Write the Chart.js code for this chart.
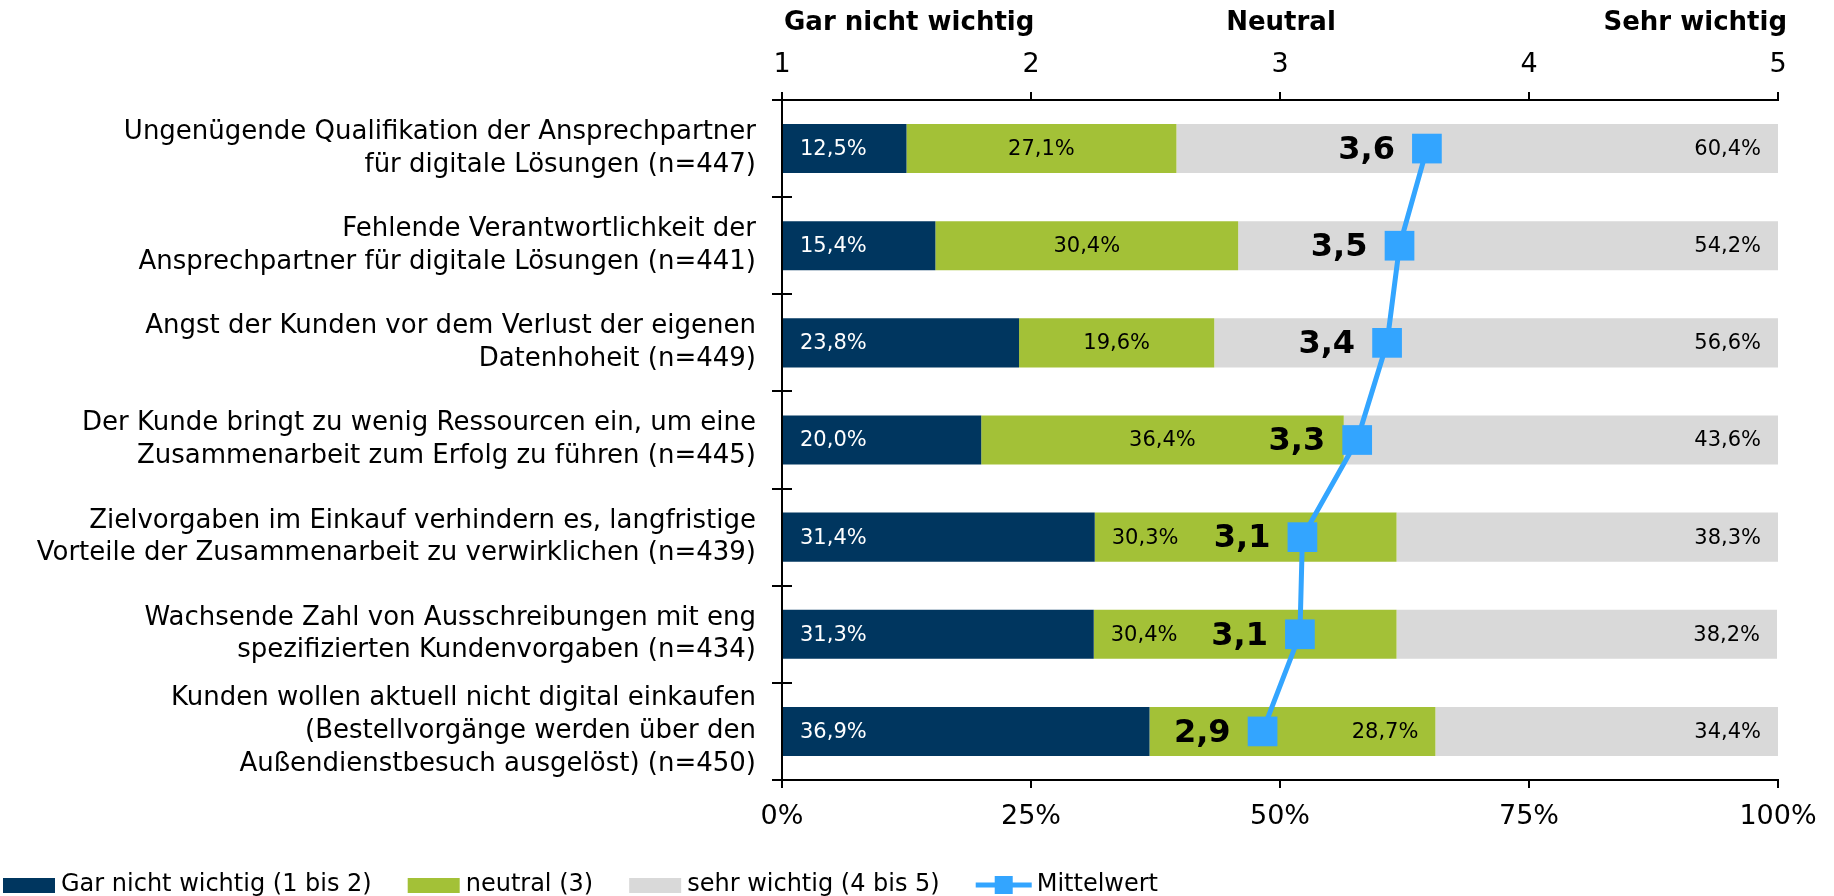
<!DOCTYPE html>
<html>
<head>
<meta charset="utf-8">
<script src="https://cdn.jsdelivr.net/npm/chart.js@4.4.1/dist/chart.umd.min.js"></script>
<style>
  html, body { margin: 0; padding: 0; background: #ffffff; }
  #wrap { width: 1834px; height: 896px; }
</style>
</head>
<body>
<div id="wrap"><canvas id="c" width="1834" height="896"></canvas></div>
<script>
// ---------- DATA ----------
const categories = [
  ['Ungenügende Qualifikation der Ansprechpartner', 'für digitale Lösungen (n=447)'],
  ['Fehlende Verantwortlichkeit der', 'Ansprechpartner für digitale Lösungen (n=441)'],
  ['Angst der Kunden vor dem Verlust der eigenen', 'Datenhoheit (n=449)'],
  ['Der Kunde bringt zu wenig Ressourcen ein, um eine', 'Zusammenarbeit zum Erfolg zu führen (n=445)'],
  ['Zielvorgaben im Einkauf verhindern es, langfristige', 'Vorteile der Zusammenarbeit zu verwirklichen (n=439)'],
  ['Wachsende Zahl von Ausschreibungen mit eng', 'spezifizierten Kundenvorgaben (n=434)'],
  ['Kunden wollen aktuell nicht digital einkaufen', '(Bestellvorgänge werden über den', 'Außendienstbesuch ausgelöst) (n=450)']
];
const notImportantValues = [12.5, 15.4, 23.8, 20.0, 31.4, 31.3, 36.9];
const neutralValues      = [27.1, 30.4, 19.6, 36.4, 30.3, 30.4, 28.7];
const importantValues    = [60.4, 54.2, 56.6, 43.6, 38.3, 38.2, 34.4];
const meanValues         = [3.59, 3.48, 3.43, 3.31, 3.09, 3.08, 2.93];
const seriesNames = ['Gar nicht wichtig (1 bis 2)', 'neutral (3)', 'sehr wichtig (4 bis 5)', 'Mittelwert'];
const percentTicks = [0, 25, 50, 75, 100];
const scaleTicks = [1, 2, 3, 4, 5];
const headerLabels = ['Gar nicht wichtig', 'Neutral', 'Sehr wichtig'];
const headerValues = [1, 3, 5];

// ---------- STYLE ----------
const FONT = "'DejaVu Sans', Verdana, sans-serif";
const NAVY = '#00365f';
const GREEN = '#a3c137';
const GRAY = '#d9d9d9';
const BLUE = '#33a5ff';
const neutralLabelAlign = ['center', 'center', 'center', 'center', 'start', 'start', 'end'];

const fmtPct = v => v.toFixed(1).replace('.', ',') + '%';
const fmtMean = v => v.toFixed(1).replace('.', ',');

const overlay = {
  id: 'overlay',
  afterDatasetsDraw(chart) {
    const ctx = chart.ctx;
    ctx.save();
    ctx.textBaseline = 'middle';
    // segment labels
    const pad = 17;
    ctx.font = '21px ' + FONT;
    [0, 1, 2].forEach(di => {
      const meta = chart.getDatasetMeta(di);
      const vals = chart.data.datasets[di].data;
      meta.data.forEach((bar, i) => {
        const left = Math.min(bar.base, bar.x), right = Math.max(bar.base, bar.x);
        const txt = fmtPct(vals[i]);
        let align, x;
        if (di === 0) { align = 'start'; ctx.fillStyle = '#ffffff'; }
        else if (di === 1) { align = neutralLabelAlign[i]; ctx.fillStyle = '#000000'; }
        else { align = 'end'; ctx.fillStyle = '#000000'; }
        if (align === 'start') { ctx.textAlign = 'left'; x = left + pad; }
        else if (align === 'end') { ctx.textAlign = 'right'; x = right - pad; }
        else { ctx.textAlign = 'center'; x = (left + right) / 2; }
        ctx.fillText(txt, x, bar.y + 1);
      });
    });
    // mean labels
    const lm = chart.getDatasetMeta(3);
    ctx.font = 'bold 32px ' + FONT;
    ctx.fillStyle = '#000000';
    ctx.textAlign = 'right';
    lm.data.forEach((pt, i) => {
      ctx.fillText(fmtMean(meanValues[i]), pt.x - 32, pt.y + 2);
    });
    ctx.restore();
  },
  afterDraw(chart) {
    const ctx = chart.ctx;
    ctx.save();
    // inner tick marks on category axis
    const ys = chart.scales.y;
    const ax = chart.chartArea.left;
    ctx.strokeStyle = '#000000';
    ctx.lineWidth = 2;
    for (let i = 0; i <= categories.length; i++) {
      const y = Math.round(ys.getPixelForValue(i - 0.5));
      ctx.beginPath();
      ctx.moveTo(ax, y);
      ctx.lineTo(ax + 10, y);
      ctx.stroke();
    }
    // header labels over the top axis
    const x2 = chart.scales.x2;
    ctx.font = 'bold 26px ' + FONT;
    ctx.fillStyle = '#000000';
    ctx.textBaseline = 'middle';
    headerLabels.forEach((t, i) => {
      const px = x2.getPixelForValue(headerValues[i]);
      if (i === 0) { ctx.textAlign = 'left'; ctx.fillText(t, px + 2, 23); }
      else if (i === headerLabels.length - 1) { ctx.textAlign = 'right'; ctx.fillText(t, px + 9, 23); }
      else { ctx.textAlign = 'center'; ctx.fillText(t, px + 1, 23); }
    });
    // legend
    const colors = [NAVY, GREEN, GRAY];
    ctx.font = '24px ' + FONT;
    ctx.textAlign = 'left';
    const cy = 885;
    let x = 3;
    seriesNames.forEach((name, i) => {
      if (i < 3) {
        ctx.fillStyle = colors[i];
        ctx.fillRect(x, cy - 7, 52, 15);
        x += 58;
      } else {
        ctx.strokeStyle = BLUE;
        ctx.lineWidth = 5;
        ctx.beginPath();
        ctx.moveTo(x, cy);
        ctx.lineTo(x + 56, cy);
        ctx.stroke();
        ctx.fillStyle = BLUE;
        ctx.fillRect(x + 28 - 9, cy - 9, 18, 18);
        x += 61;
      }
      ctx.fillStyle = '#000000';
      ctx.fillText(name, x, cy);
      x += ctx.measureText(name).width + 36;
    });
    ctx.restore();
  }
};

const axisGrid = { drawOnChartArea: false, drawTicks: true, tickLength: 8, color: '#000000', lineWidth: 2 };

new Chart(document.getElementById('c'), {
  type: 'bar',
  data: {
    labels: categories,
    datasets: [
      { label: seriesNames[0], data: notImportantValues, backgroundColor: NAVY, borderWidth: 0, order: 1 },
      { label: seriesNames[1], data: neutralValues, backgroundColor: GREEN, borderWidth: 0, order: 1 },
      { label: seriesNames[2], data: importantValues, backgroundColor: GRAY, borderWidth: 0, order: 1 },
      {
        type: 'line', label: seriesNames[3], data: meanValues, indexAxis: 'y',
        xAxisID: 'x2', yAxisID: 'y', order: 0,
        borderColor: BLUE, borderWidth: 5, fill: false, tension: 0,
        pointStyle: 'rect', pointRadius: 21, pointHoverRadius: 21,
        pointBackgroundColor: BLUE, pointBorderWidth: 0, pointBorderColor: BLUE
      }
    ]
  },
  options: {
    indexAxis: 'y',
    responsive: false,
    animation: false,
    events: [],
    datasets: { bar: { barPercentage: 0.505, categoryPercentage: 1.0 } },
    layout: { padding: { left: 0, right: 56, top: 0, bottom: 0 } },
    scales: {
      x: {
        type: 'linear', position: 'bottom', stacked: true, min: 0, max: 100,
        afterBuildTicks: s => { s.ticks = percentTicks.map(v => ({ value: v })); },
        ticks: { callback: v => v + '%', font: { family: FONT, size: 27 }, color: '#000000', padding: 13, maxRotation: 0 },
        grid: axisGrid,
        border: { display: true, color: '#000000', width: 2 },
        afterFit: s => { s.height = 116; }
      },
      x2: {
        type: 'linear', position: 'top', min: 1, max: 5,
        afterBuildTicks: s => { s.ticks = scaleTicks.map(v => ({ value: v })); },
        ticks: { font: { family: FONT, size: 27 }, color: '#000000', padding: 11, maxRotation: 0 },
        grid: axisGrid,
        border: { display: true, color: '#000000', width: 2 },
        afterFit: s => { s.height = 100; }
      },
      y: {
        type: 'category', stacked: true, offset: true,
        grid: { offset: true, drawOnChartArea: false, drawTicks: true, tickLength: 10, color: '#000000', lineWidth: 2 },
        border: { display: true, color: '#000000', width: 2 },
        ticks: { font: { family: FONT, size: 26, lineHeight: 1.26 }, color: '#000000', padding: 16, autoSkip: false },
        afterFit: s => { s.width = 782; }
      }
    },
    plugins: { legend: { display: false }, tooltip: { enabled: false }, title: { display: false } }
  },
  plugins: [overlay]
});
</script>
</body>
</html>
